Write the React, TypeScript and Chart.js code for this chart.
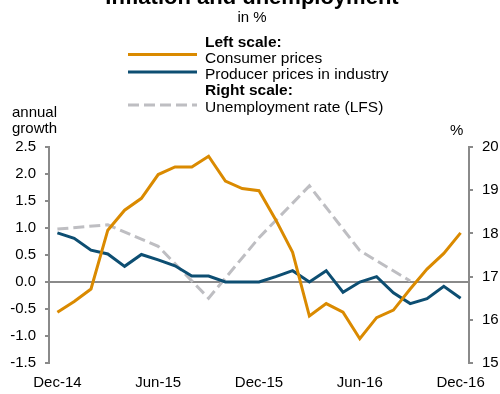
import React, { useEffect, useRef } from "react";
import { Chart, registerables } from "chart.js";

Chart.register(...registerables);

// Monthly categories, Dec-14 .. Dec-16
const months = [
  "Dec-14", "Jan-15", "Feb-15", "Mar-15", "Apr-15", "May-15", "Jun-15",
  "Jul-15", "Aug-15", "Sep-15", "Oct-15", "Nov-15", "Dec-15",
  "Jan-16", "Feb-16", "Mar-16", "Apr-16", "May-16", "Jun-16",
  "Jul-16", "Aug-16", "Sep-16", "Oct-16", "Nov-16", "Dec-16",
];

// Left scale: annual growth, %
const consumerPrices = [
  -0.56, -0.36, -0.13, 0.96, 1.33, 1.55, 1.99, 2.13, 2.13, 2.33, 1.87, 1.73, 1.69,
  1.15, 0.55, -0.63, -0.40, -0.56, -1.05, -0.66, -0.52, -0.13, 0.24, 0.53, 0.91,
];
const producerPrices = [
  0.91, 0.81, 0.59, 0.52, 0.29, 0.51, 0.41, 0.30, 0.11, 0.11, 0.0, 0.0, 0.0,
  0.10, 0.21, 0.0, 0.21, -0.19, 0.0, 0.10, -0.20, -0.40, -0.31, -0.08, -0.30,
];

// Right scale: quarterly unemployment rate (LFS), %
const unemploymentQuarters = ["Dec-14", "Mar-15", "Jun-15", "Sep-15", "Dec-15", "Mar-16", "Jun-16", "Sep-16"];
const unemploymentRate = [18.1, 18.2, 17.7, 16.5, 17.9, 19.1, 17.6, 16.9];

// Axis ticks
const xTickLabels = ["Dec-14", "Jun-15", "Dec-15", "Jun-16", "Dec-16"];
const leftTicks = [-1.5, -1.0, -0.5, 0.0, 0.5, 1.0, 1.5, 2.0, 2.5];
const rightTicks = [15, 16, 17, 18, 19, 20];

// Texts
const titleText = "Inflation and unemployment";
const subtitleText = "in %";
const leftScaleHeading = "Left scale:";
const rightScaleHeading = "Right scale:";
const seriesNames = ["Consumer prices", "Producer prices in industry", "Unemployment rate (LFS)"];
const leftAxisTitle = ["annual", "growth"];
const rightAxisTitle = "%";

const ORANGE = "#DA8A00";
const BLUE = "#0D4E72";
const LIGHT_GRAY = "#BEBEC2";
const AXIS_GRAY = "#8A8A8A";
const FONT = '"Liberation Sans", Arial, sans-serif';

const annotationPlugin = {
  id: "headerAndLegend",
  afterDraw(chart: any) {
    const ctx = chart.ctx as CanvasRenderingContext2D;
    ctx.save();
    ctx.fillStyle = "#000";
    ctx.textBaseline = "alphabetic";

    // title (mostly above the canvas edge) and subtitle
    ctx.textAlign = "center";
    ctx.font = `bold 22px ${FONT}`;
    ctx.fillText(titleText, 252, 3.5);
    ctx.font = `15px ${FONT}`;
    ctx.fillText(subtitleText, 252, 22);

    // legend
    ctx.textAlign = "left";
    const tx = 205;
    ctx.font = `bold 15.5px ${FONT}`;
    ctx.fillText(leftScaleHeading, tx, 46.5);
    ctx.font = `15.5px ${FONT}`;
    ctx.fillText(seriesNames[0], tx, 62.5);
    ctx.fillText(seriesNames[1], tx, 79);
    ctx.font = `bold 15.5px ${FONT}`;
    ctx.fillText(rightScaleHeading, tx, 95);
    ctx.font = `15.5px ${FONT}`;
    ctx.fillText(seriesNames[2], tx, 111.5);

    const swatch = (y: number, color: string, dash: number[]) => {
      ctx.beginPath();
      ctx.setLineDash(dash);
      ctx.strokeStyle = color;
      ctx.lineWidth = 3;
      ctx.lineCap = "butt";
      ctx.moveTo(128, y);
      ctx.lineTo(197, y);
      ctx.stroke();
    };
    swatch(54.5, ORANGE, []);
    swatch(72, BLUE, []);
    swatch(105, LIGHT_GRAY, [11, 5]);
    ctx.setLineDash([]);

    // axis titles
    ctx.fillStyle = "#000";
    ctx.font = `15px ${FONT}`;
    ctx.textAlign = "left";
    ctx.fillText(leftAxisTitle[0], 12, 117);
    ctx.fillText(leftAxisTitle[1], 12, 133);
    ctx.fillText(rightAxisTitle, 450, 135);
    ctx.restore();
  },
};

export default function App() {
  const canvasRef = useRef<HTMLCanvasElement | null>(null);

  useEffect(() => {
    if (!canvasRef.current) return;
    const chart = new Chart(canvasRef.current, {
      type: "line",
      data: {
        labels: months,
        datasets: [
          {
            label: seriesNames[2],
            data: unemploymentQuarters.map((q, i) => ({ x: q, y: unemploymentRate[i] })),
            yAxisID: "y1",
            borderColor: LIGHT_GRAY,
            borderWidth: 3,
            borderDash: [11, 5],
            pointRadius: 0,
            tension: 0,
            spanGaps: true,
            order: 3,
          },
          {
            label: seriesNames[1],
            data: producerPrices,
            yAxisID: "y",
            borderColor: BLUE,
            borderWidth: 3,
            pointRadius: 0,
            tension: 0,
            order: 2,
          },
          {
            label: seriesNames[0],
            data: consumerPrices,
            yAxisID: "y",
            borderColor: ORANGE,
            borderWidth: 3,
            pointRadius: 0,
            tension: 0,
            order: 1,
          },
        ],
      },
      options: {
        responsive: false,
        animation: false,
        events: [],
        layout: { padding: { top: 147, left: 0, right: 0, bottom: 0 } },
        plugins: {
          legend: { display: false },
          title: { display: false },
          tooltip: { enabled: false },
        },
        scales: {
          x: {
            type: "category",
            offset: true,
            grid: { display: false },
            border: { display: false },
            ticks: {
              autoSkip: false,
              maxRotation: 0,
              minRotation: 0,
              padding: 3,
              color: "#000",
              font: { family: FONT, size: 15 },
              callback: (_v: any, i: number) => (xTickLabels.includes(months[i]) ? months[i] : null),
            },
            afterFit: (s: any) => {
              s.height = 31;
            },
          },
          y: {
            position: "left",
            min: leftTicks[0],
            max: leftTicks[leftTicks.length - 1],
            afterBuildTicks: (s: any) => {
              s.ticks = leftTicks.map((v) => ({ value: v }));
            },
            grid: {
              drawOnChartArea: true,
              color: (c: any) => (c.tick && Math.abs(c.tick.value) < 1e-9 ? AXIS_GRAY : "rgba(0,0,0,0)"),
              lineWidth: 2,
              tickColor: AXIS_GRAY,
              tickWidth: 2,
              tickLength: 4,
            },
            border: { display: true, color: AXIS_GRAY, width: 2 },
            ticks: {
              padding: 9,
              color: "#000",
              font: { family: FONT, size: 15 },
              callback: (v: any) => Number(v).toFixed(1),
            },
            afterFit: (s: any) => {
              s.width = 49;
            },
          },
          y1: {
            position: "right",
            min: rightTicks[0],
            max: rightTicks[rightTicks.length - 1],
            afterBuildTicks: (s: any) => {
              s.ticks = rightTicks.map((v) => ({ value: v }));
            },
            grid: {
              drawOnChartArea: false,
              color: AXIS_GRAY,
              lineWidth: 2,
              tickColor: AXIS_GRAY,
              tickWidth: 2,
              tickLength: 4,
            },
            border: { display: true, color: AXIS_GRAY, width: 2 },
            ticks: {
              padding: 9,
              color: "#000",
              font: { family: FONT, size: 15 },
              callback: (v: any) => String(v),
            },
            afterFit: (s: any) => {
              s.width = 31;
            },
          },
        },
      },
      plugins: [annotationPlugin],
    });
    return () => chart.destroy();
  }, []);

  return (
    <div style={{ position: "fixed", left: 0, top: 0, width: 500, height: 394, background: "#fff" }}>
      <canvas ref={canvasRef} width={500} height={394} />
    </div>
  );
}
